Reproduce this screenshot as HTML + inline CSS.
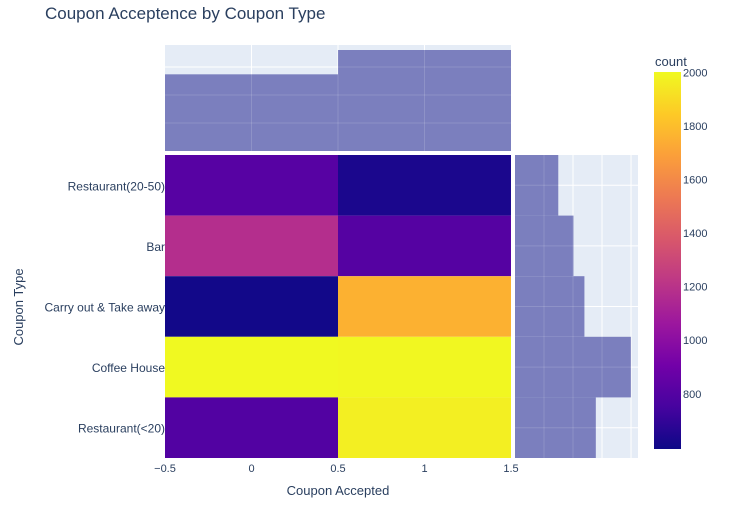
<!DOCTYPE html>
<html><head><meta charset="utf-8">
<style>
body{margin:0;background:#fff;font-family:"Liberation Sans",sans-serif;}
svg text{font-family:"Liberation Sans",sans-serif;fill:#2a3f5f;}
</style></head>
<body>
<svg id="chart" width="734" height="507">
<text x="45" y="19" font-size="17">Coupon Acceptence by Coupon Type</text>
<g id="g"></g>
</svg>
<script>
const categories = ["Restaurant(20-50)","Bar","Carry out & Take away","Coffee House","Restaurant(<20)"];
const xCats = [0, 1];
const counts0 = [834, 1190, 633, 2001, 816];
const counts1 = [658, 827, 1760, 1995, 1970];
const cbTicks = [800, 1000, 1200, 1400, 1600, 1800, 2000];
const topTicks = [2000, 4000, 6000];
const rightTicks = [1000, 2000, 3000, 4000];

const NS="http://www.w3.org/2000/svg";
const g=document.getElementById('g');
function el(t,a,p){const e=document.createElementNS(NS,t);for(const k in a)e.setAttribute(k,a[k]);(p||g).appendChild(e);return e;}
const X0=165,X1=511,Y0=155,Y1=458;
const xs=v=>X0+(v+0.5)/2*(X1-X0);
const rowH=(Y1-Y0)/categories.length;
const yc=i=>Y0+(i+0.5)*rowH;
const zmin=620,zmax=2001;
const HC='#7b7fbe';
const stops=[[0,"#0d0887"],[0.111,"#46039f"],[0.222,"#7201a8"],[0.333,"#9c179e"],[0.444,"#bd3786"],[0.556,"#d8576b"],[0.667,"#ed7953"],[0.778,"#fb9f3a"],[0.889,"#fdca26"],[1,"#f0f921"]];
function hex(h){return [1,3,5].map(i=>parseInt(h.substr(i,2),16));}
function cmap(v){let t=(v-zmin)/(zmax-zmin);t=Math.max(0,Math.min(1,t));for(let i=1;i<stops.length;i++){if(t<=stops[i][0]){const a=stops[i-1],b=stops[i];const f=(t-a[0])/(b[0]-a[0]);const c1=hex(a[1]),c2=hex(b[1]);return `rgb(${c1.map((c,j)=>Math.round(c+(c2[j]-c)*f)).join(',')})`;}}return stops[9][1];}

// heatmap
const series=[counts0,counts1];
categories.forEach((c,i)=>{
  xCats.forEach((x,j)=>{
    const r=el('rect',{x:xs(x-0.5),y:Y0+i*rowH,width:xs(x+0.5)-xs(x-0.5),height:rowH,fill:cmap(series[j][i])});
    
    
  });
  const t=el('text',{x:X0,y:yc(i)+5,'font-size':12,'text-anchor':'end'});t.textContent=c;
  
  
});
[-0.5,0,0.5,1,1.5].forEach(v=>{
  const t=el('text',{x:xs(v),y:Y1+14,'font-size':11,'text-anchor':'middle'});t.textContent=(v<0?'−0.5':String(v));
  
  
});
let t=el('text',{x:338,y:495,'font-size':13,'text-anchor':'middle'});t.textContent='Coupon Accepted';

t=el('text',{x:23,y:307,'font-size':13,'text-anchor':'middle',transform:'rotate(-90 23 307)'});t.textContent='Coupon Type';


// top marginal
const TY0=45,TY1=151,TMAX=7567;
const ty=v=>TY1-v/TMAX*(TY1-TY0);
let bg=el('rect',{x:X0,y:TY0,width:X1-X0,height:TY1-TY0,fill:'#e5ecf6'});

[0,0.5,1].forEach(v=>el('line',{x1:xs(v),x2:xs(v),y1:TY0,y2:TY1,stroke:'#fff'}));
topTicks.forEach(v=>el('line',{x1:X0,x2:X1,y1:ty(v),y2:ty(v),stroke:'#fff'}));
xCats.forEach((x,j)=>{
  const tot=series[j].reduce((a,b)=>a+b,0);
  const r=el('rect',{x:xs(x-0.5),y:ty(tot),width:xs(x+0.5)-xs(x-0.5),height:TY1-ty(tot),fill:HC});
  
  
});
topTicks.forEach(v=>el('line',{x1:X0,x2:X1,y1:ty(v),y2:ty(v),stroke:'#fff','stroke-opacity':0.15}));
[0,0.5,1].forEach(v=>el('line',{x1:xs(v),x2:xs(v),y1:TY0,y2:TY1,stroke:'#fff','stroke-opacity':0.15}));

// right marginal
const RX0=515,RX1=638,RMAX=4240;
const rx=v=>RX0+v/RMAX*(RX1-RX0);
bg=el('rect',{x:RX0,y:Y0,width:RX1-RX0,height:Y1-Y0,fill:'#e5ecf6'});

rightTicks.forEach(v=>el('line',{x1:rx(v),x2:rx(v),y1:Y0,y2:Y1,stroke:'#fff'}));
categories.forEach((c,i)=>el('line',{x1:RX0,x2:RX1,y1:yc(i),y2:yc(i),stroke:'#fff'}));
categories.forEach((c,i)=>{
  const tot=counts0[i]+counts1[i];
  const r=el('rect',{x:RX0,y:Y0+i*rowH,width:rx(tot)-RX0,height:rowH,fill:HC});
  
  
});
rightTicks.forEach(v=>el('line',{x1:rx(v),x2:rx(v),y1:Y0,y2:Y1,stroke:'#fff','stroke-opacity':0.15}));
categories.forEach((c,i)=>el('line',{x1:RX0,x2:RX1,y1:yc(i),y2:yc(i),stroke:'#fff','stroke-opacity':0.15}));

// colorbar
const CX=654,CW=27,CY0=72,CY1=449;
const CBMIN=594,CBMAX=2001;
const defs=el('defs',{});
const lg=el('linearGradient',{id:'cg',x1:0,y1:1,x2:0,y2:0},defs);
stops.forEach(s=>el('stop',{offset:s[0],'stop-color':s[1]},lg));
const cb=el('rect',{x:CX,y:CY0,width:CW,height:CY1-CY0,fill:'url(#cg)'});

const cy=v=>CY1-(v-CBMIN)/(CBMAX-CBMIN)*(CY1-CY0);
cbTicks.forEach(v=>{
  const tt=el('text',{x:CX+CW+2,y:cy(v)+4,'font-size':11});tt.textContent=v;
  
  
});
t=el('text',{x:655,y:66,'font-size':13});t.textContent='count';

</script>
</body></html>
